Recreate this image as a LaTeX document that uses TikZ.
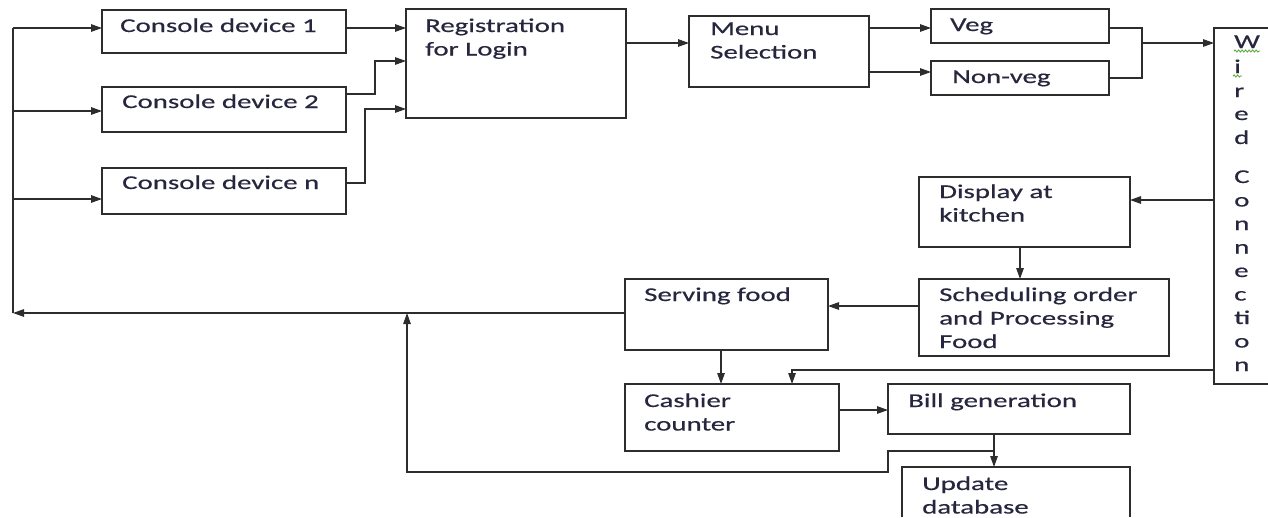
\documentclass[tikz,border=0pt]{standalone}
\usepackage{fontspec}
\setmainfont{Carlito}[FakeStretch=1.48,FakeBold=0.5]
\usetikzlibrary{arrows.meta,calc,decorations.pathmorphing}
\definecolor{lncol}{RGB}{45,45,45}
\definecolor{txcol}{RGB}{38,38,62}
\definecolor{sqcol}{RGB}{90,170,60}
\newcommand\tl[1]{\begin{tabular}[t]{@{}l@{}}#1\end{tabular}}
\begin{document}
\begin{tikzpicture}[x=1pt,y=-1pt,
  box/.style={draw=lncol, line width=1.3pt, inner sep=0pt, outer sep=0pt, anchor=north west},
  frame/.style={inner sep=0pt, outer sep=0pt, anchor=north west},
  txt/.style={text=txcol, inner sep=0pt, anchor=base west, font=\fontsize{19.5}{23.5}\selectfont},
  wire/.style={draw=lncol, line width=1.3pt},
  arr/.style={draw=lncol, line width=1.3pt, -{Triangle[length=11pt,width=7.5pt]}},
  squig/.style={draw=sqcol, line width=0.9pt, decorate, decoration={snake, amplitude=1pt, segment length=3.5pt}}]
\useasboundingbox (0,0) rectangle (1268,517);

% boxes
\node[box, minimum width=244pt, minimum height=43pt] (c1) at (102,10) {};
\node[box, minimum width=244pt, minimum height=45pt] (c2) at (102,87) {};
\node[box, minimum width=244pt, minimum height=46pt] (cn) at (102,168) {};
\node[box, minimum width=220pt, minimum height=109pt] (reg) at (406,9) {};
\node[box, minimum width=180pt, minimum height=71pt] (menu) at (689,16) {};
\node[box, minimum width=178pt, minimum height=34pt] (veg) at (931,9) {};
\node[box, minimum width=178pt, minimum height=34pt] (nonveg) at (931,61) {};
\node[frame, minimum width=54pt, minimum height=356pt] (wired) at (1214,28) {};
\node[box, minimum width=211pt, minimum height=70pt] (disp) at (919,177) {};
\node[box, minimum width=250pt, minimum height=77pt] (sched) at (919,279) {};
\node[box, minimum width=203pt, minimum height=71pt] (serv) at (625,279) {};
\node[box, minimum width=214pt, minimum height=67pt] (cash) at (625,384) {};
\node[box, minimum width=242pt, minimum height=50pt] (bill) at (888,384) {};
\node[frame, minimum width=228pt, minimum height=50pt] (upd) at (902,467) {};
\draw[wire] (wired.north east) -- (wired.north west) -- (wired.south west) -- (wired.south east);
\draw[wire] (upd.south west) -- (upd.north west) -- (upd.north east) -- (upd.south east);

% texts
\node[txt] (t-c1) at ($(c1.north west)+(18,22)$) {Console device 1};
\node[txt] (t-c2) at ($(c2.north west)+(20,21)$) {Console device 2};
\node[txt] (t-cn) at ($(cn.north west)+(20,21)$) {Console device n};
\node[txt] (t-reg) at ($(reg.north west)+(19,23)$) {\tl{Registration\\for Login}};
\node[txt] (t-menu) at ($(menu.north west)+(21,19)$) {\tl{Menu\\Selection}};
\node[txt] (t-veg) at ($(veg.north west)+(19,22)$) {Veg};
\node[txt] (t-nonveg) at ($(nonveg.north west)+(21,22)$) {Non-veg};
\node[txt] (t-disp) at ($(disp.north west)+(20,21)$) {\tl{Display at\\kitchen}};
\node[txt] (t-sched) at ($(sched.north west)+(20,22)$) {\tl{Scheduling order\\and Processing\\Food}};
\node[txt] (t-serv) at ($(serv.north west)+(19,22)$) {Serving food};
\node[txt] (t-cash) at ($(cash.north west)+(19,23)$) {\tl{Cashier\\counter}};
\node[txt] (t-bill) at ($(bill.north west)+(20,23)$) {Bill generation};
\node[txt] (t-upd) at ($(upd.north west)+(20,23)$) {\tl{Update\\database}};
\foreach \ch/\yy [count=\k] in {W/48, i/73, r/97, e/120, d/144, C/183, o/206.5, n/230, n/253.5, e/277, c/300.5, ti/324, o/347.5, n/371}
  \node[txt] (w\k) at (1234,\yy) {\ch};
\draw[squig] ($(w1.base west)+(0,3)$) -- ($(w1.base east)+(0,3)$);
\draw[squig] ($(w2.base west)+(-1,3)$) -- ($(w2.base east)+(1,3)$);

% trunk on the left
\coordinate (t1) at (13,28);
\coordinate (t2) at (13,111);
\coordinate (t3) at (13,199);
\coordinate (tb) at (13,313);
\coordinate (tm) at (407,313);
\draw[wire] (tb) -- (t1);
\draw[arr] (t1) -- (t1 -| c1.west);
\draw[arr] (t2) -- (t2 -| c2.west);
\draw[arr] (t3) -- (t3 -| cn.west);

% consoles to registration
\draw[arr] ($(c1.north east)+(0,18)$) -- ($(reg.north west)+(0,19)$);
\draw[arr] ($(c2.north east)+(0,7)$) -- ++(29,0) |- ($(reg.north west)+(0,52)$);
\draw[arr] ($(cn.north east)+(0,15)$) -- ++(19,0) |- ($(reg.north west)+(0,100)$);

% registration -> menu -> veg / non-veg
\draw[arr] ($(reg.north east)+(0,34)$) -- ($(menu.north west)+(0,27)$);
\draw[arr] ($(menu.north east)+(0,12)$) -- ($(veg.north west)+(0,19)$);
\draw[arr] ($(menu.north east)+(0,56)$) -- ($(nonveg.north west)+(0,11)$);

% veg / non-veg -> wired connection
\draw[wire] ($(veg.north east)+(0,19)$) -| ($(nonveg.north east)+(33,17)$) -- ($(nonveg.north east)+(0,17)$);
\draw[arr] ($(veg.north east)+(33,34)$) -- ($(wired.north west)+(0,15)$);

% wired -> display -> scheduling -> serving
\draw[arr] ($(wired.north west)+(0,172)$) -- ($(disp.north east)+(0,23)$);
\draw[arr] ($(disp.south west)+(101,0)$) -- ($(sched.north west)+(101,0)$);
\draw[arr] ($(sched.north west)+(0,27)$) -- ($(serv.north east)+(0,27)$);
\draw[arr] ($(serv.north west)+(0,34)$) -- (tb);

% serving -> cashier, wired -> cashier
\draw[arr] ($(serv.south west)+(96,0)$) -- ($(cash.north west)+(96,0)$);
\draw[arr] ($(wired.south west)+(0,-14)$) -| ($(cash.north west)+(167,0)$);

% cashier -> bill -> update
\draw[arr] ($(cash.north east)+(0,26)$) -- ($(bill.north west)+(0,26)$);
\draw[arr] ($(bill.south west)+(106,0)$) -- ($(upd.north west)+(92,0)$);

% return loop
\coordinate (rj) at ($(bill.south west)+(106,17)$);
\draw[arr] (rj) -- ($(bill.south west)+(0,17)$) -- ($(bill.south west)+(0,38)$) -| (tm);
\end{tikzpicture}
\end{document}
